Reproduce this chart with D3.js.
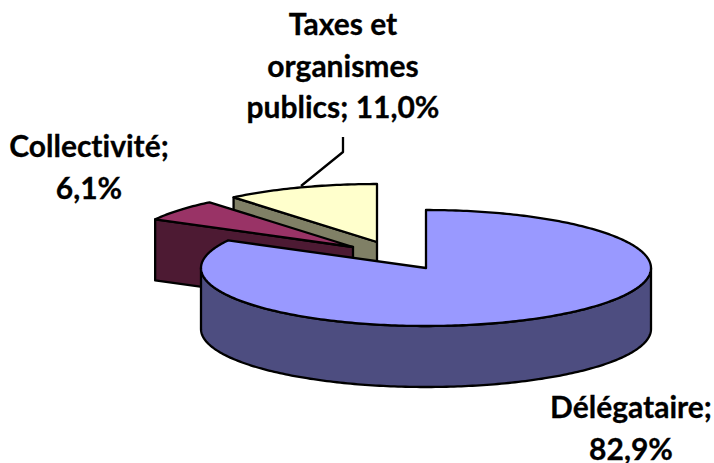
<!DOCTYPE html>
<html>
<head>
<meta charset="utf-8">
<script src="https://cdn.jsdelivr.net/npm/d3@7/dist/d3.min.js"></script>
<style>
  html, body { margin: 0; padding: 0; background: #fff; }
  svg { display: block; }
  text { font-family: Lato, "Open Sans", sans-serif; font-weight: 700; fill: #000; stroke: #000; stroke-width: 0.3px; font-variant-ligatures: none; }
</style>
</head>
<body>
<svg id="chart" width="714" height="463"></svg>
<script>
// Share of the amount by recipient
const categories = ["Délégataire", "Collectivité", "Taxes et organismes publics"];
const shares = [82.9, 6.1, 11.0];
const topColors = ["#9999ff", "#993366", "#ffffcc"];
const wallColors = ["#4d4d80", "#4d1a33", "#808066"];

// Words per line for each wrapped label
const labelWrap = [[1, 1], [1, 1], [2, 1, 2]];

// Ellipse of the tilted disc and thickness of the disc
const rx = 225, ry = 58, depth = 61;
const apexes = [[426, 268], [353, 247], [377, 242]];
const labelAnchors = [[631, 418], [89, 157], [343, 35]];
const lineStep = 41.5;
const leader = [[343, 137], [343, 152], [301, 186]];

const svg = d3.select("#chart");
const pie = d3.pie().sort(null).startAngle(0).endAngle(2 * Math.PI);
const arcs = pie(shares);
const line = d3.line();

const rim = (apex, angle, drop = 0) => [
  apex[0] + rx * Math.sin(angle),
  apex[1] - ry * Math.cos(angle) + drop
];
const sweep = (apex, a0, a1, drop = 0) => {
  const n = Math.max(2, Math.ceil(Math.abs(a1 - a0) * 60));
  return d3.range(n + 1).map(i => rim(apex, a0 + (a1 - a0) * i / n, drop));
};

const stroke = sel => sel.attr("stroke", "#000").attr("stroke-width", 2.3).attr("stroke-linejoin", "round");

// Back slices first so the large slice overlaps them
[2, 1, 0].forEach(i => {
  const d = arcs[i];
  const apex = apexes[i];
  const g = svg.append("g");

  if (i > 0) {
    // Cut face along the leading radial edge
    const edge = rim(apex, d.startAngle);
    g.append("path")
      .attr("d", line([apex, edge, [edge[0], edge[1] + depth], [apex[0], apex[1] + depth]]) + "Z")
      .attr("fill", wallColors[i]).call(stroke);
  } else {
    // Outer wall along the front half of the disc
    const a0 = Math.PI / 2, a1 = 3 * Math.PI / 2;
    const pts = sweep(apex, a0, a1).concat(sweep(apex, a1, a0, depth));
    g.append("path").attr("d", line(pts) + "Z").attr("fill", wallColors[i]).call(stroke);
  }

  // Top face
  const top = [apex].concat(sweep(apex, d.startAngle, d.endAngle));
  g.append("path").attr("d", line(top) + "Z").attr("fill", topColors[i]).call(stroke);
});

// Leader line for the wrapped label
svg.append("path").attr("d", line(leader)).attr("fill", "none").call(stroke);

// Data labels in the French number format
const fmt = v => v.toFixed(1).replace(".", ",") + "%";
categories.forEach((c, i) => {
  const words = `${c}; ${fmt(shares[i])}`.split(" ");
  let from = 0;
  const t = svg.append("text")
    .attr("text-anchor", "middle")
    .attr("font-size", 30);
  labelWrap[i].forEach((count, row) => {
    t.append("tspan")
      .attr("x", labelAnchors[i][0])
      .attr("y", labelAnchors[i][1] + row * lineStep)
      .text(words.slice(from, from + count).join(" "));
    from += count;
  });
});
</script>
</body>
</html>
